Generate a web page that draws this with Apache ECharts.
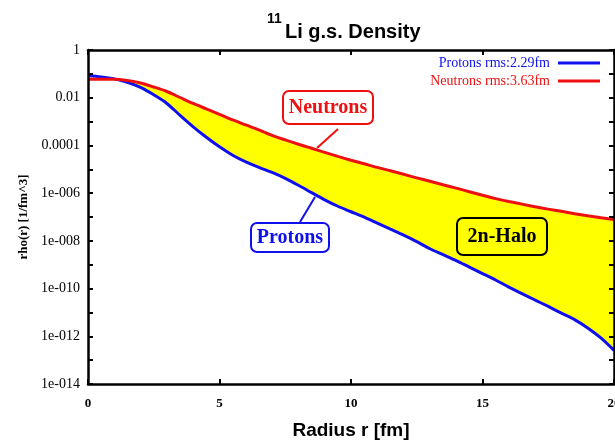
<!DOCTYPE html>
<html>
<head>
<meta charset="utf-8">
<title>11Li g.s. Density</title>
<script src="https://cdn.jsdelivr.net/npm/echarts@6/dist/echarts.min.js"></script>
<style>
  html, body { margin: 0; padding: 0; background: #ffffff; }
  #chart { width: 615px; height: 445px; }
</style>
</head>
<body>
<div id="chart"></div>
<script>
// Radial grid in fm
const radius = [0, 0.5, 1, 1.5, 2, 2.5, 3, 3.5, 4, 4.5, 5, 5.5, 6, 6.5, 7, 7.5, 8, 8.5, 9, 9.5,
  10, 10.5, 11, 11.5, 12, 12.5, 13, 13.5, 14, 14.5, 15, 15.5, 16, 16.5, 17, 17.5, 18, 18.5, 19, 19.5, 20];

// Proton density rho_p(r) [1/fm^3]
const protonDensity = [0.085, 0.074, 0.0617, 0.0437, 0.0269, 0.0132, 5.75e-3, 1.82e-3, 6.03e-4, 2.19e-4,
  8.71e-5, 3.89e-5, 2.04e-5, 1.20e-5, 7.41e-6, 4.17e-6, 2.14e-6, 1.05e-6, 5.25e-7, 2.82e-7,
  1.66e-7, 9.77e-8, 5.5e-8, 3.09e-8, 1.74e-8, 9.33e-9, 4.68e-9, 2.63e-9, 1.48e-9, 7.94e-10,
  4.27e-10, 2.29e-10, 1.15e-10, 6.17e-11, 3.31e-11, 1.78e-11, 9.33e-12, 5.01e-12, 2.24e-12, 8.51e-13, 2.57e-13];

// Neutron density rho_n(r) [1/fm^3]
const neutronDensity = [0.0589, 0.0589, 0.0589, 0.0525, 0.0417, 0.0282, 0.0182, 0.0102, 5.75e-3, 3.39e-3,
  2.0e-3, 1.17e-3, 7.24e-4, 4.47e-4, 2.63e-4, 1.70e-4, 1.12e-4, 7.59e-5, 5.13e-5, 3.47e-5,
  2.40e-5, 1.70e-5, 1.20e-5, 8.71e-6, 6.17e-6, 4.37e-6, 3.16e-6, 2.24e-6, 1.62e-6, 1.15e-6,
  8.13e-7, 5.89e-7, 4.47e-7, 3.47e-7, 2.69e-7, 2.14e-7, 1.74e-7, 1.38e-7, 1.12e-7, 9.33e-8, 7.76e-8];

const seriesNames = ['Protons rms:2.29fm', 'Neutrons rms:3.63fm'];

// Axis ticks and labels
const xTickValues = [0, 5, 10, 15, 20];
const yTickValues = [1, 1e-1, 1e-2, 1e-3, 1e-4, 1e-5, 1e-6, 1e-7, 1e-8, 1e-9, 1e-10, 1e-11, 1e-12, 1e-13, 1e-14];
const yLabelValues = [1, 1e-2, 1e-4, 1e-6, 1e-8, 1e-10, 1e-12, 1e-14];
const yTickLabels = ['1', '0.01', '0.0001', '1e-006', '1e-008', '1e-010', '1e-012', '1e-014'];

const SERIF = '"Liberation Serif", "DejaVu Serif", serif';
const SANS = '"Liberation Sans", Arial, sans-serif';

const protonPoints = radius.map((r, i) => [r, protonDensity[i]]);
const neutronPoints = radius.map((r, i) => [r, neutronDensity[i]]);

function yLabel(v) {
  const i = yLabelValues.findIndex(t => Math.abs(Math.log10(t) - Math.log10(v)) < 1e-6);
  return i >= 0 ? yTickLabels[i] : '';
}

const frameLine = { show: true, onZero: false, lineStyle: { color: '#000', width: 2.5 } };
const tickStyle = { color: '#000', width: 2 };

const chart = echarts.init(document.getElementById('chart'), null, { renderer: 'canvas' });

chart.setOption({
  animation: false,
  backgroundColor: '#ffffff',
  grid: { left: 88, right: 1, top: 50, bottom: 61, show: false, containLabel: false, outerBoundsMode: 'none' },
  legend: {
    orient: 'vertical',
    right: 15,
    top: 56,
    align: 'right',
    icon: 'rect',
    itemWidth: 42,
    itemHeight: 3,
    itemGap: 4,
    padding: 0,
    selectedMode: false,
    textStyle: { fontFamily: SERIF, fontSize: 14, padding: [0, 3, 0, 0] },
    data: [
      { name: seriesNames[0], textStyle: { color: '#1010ee' } },
      { name: seriesNames[1], textStyle: { color: '#ee1010' } }
    ]
  },
  xAxis: [
    {
      type: 'value', min: 0, max: 20, interval: 5, position: 'bottom', z: 10,
      axisLine: frameLine,
      axisTick: { show: true, inside: true, length: 5, customValues: xTickValues, lineStyle: tickStyle },
      axisLabel: { customValues: xTickValues, margin: 13, color: '#000', fontFamily: SERIF, fontSize: 13, fontWeight: 'bold' },
      splitLine: { show: false },
      name: 'Radius r [fm]', nameLocation: 'middle', nameGap: 37,
      nameTextStyle: { fontFamily: SANS, fontSize: 19, fontWeight: 'bold', color: '#000' }
    },
    {
      type: 'value', min: 0, max: 20, interval: 5, position: 'top', z: 10,
      axisLine: frameLine,
      axisTick: { show: true, inside: true, length: 5, customValues: xTickValues, lineStyle: tickStyle },
      axisLabel: { show: false },
      splitLine: { show: false }
    }
  ],
  yAxis: [
    {
      type: 'log', logBase: 10, min: 1e-14, max: 1, position: 'left', z: 10,
      axisLine: frameLine,
      axisTick: { show: true, inside: true, length: 5, customValues: yTickValues, lineStyle: tickStyle },
      axisLabel: { customValues: yLabelValues, formatter: yLabel, margin: 8, color: '#000', fontFamily: SERIF, fontSize: 14 },
      splitLine: { show: false },
      name: 'rho(r) [1/fm^3]', nameLocation: 'middle', nameGap: 57, nameRotate: 90,
      nameTextStyle: { fontFamily: SERIF, fontSize: 13, fontWeight: 'bold', color: '#000' }
    },
    {
      type: 'log', logBase: 10, min: 1e-14, max: 1, position: 'right', z: 10,
      axisLine: frameLine,
      axisTick: { show: true, inside: true, length: 5, customValues: yTickValues, lineStyle: tickStyle },
      axisLabel: { show: false },
      splitLine: { show: false }
    }
  ],
  series: [
    {
      // halo region: neutron density filled yellow
      name: 'neutronFill', type: 'line', data: neutronPoints, symbol: 'none', silent: true, z: 1,
      smooth: 0.3,
      lineStyle: { width: 0 },
      areaStyle: { color: '#ffff00', opacity: 1, origin: 'start' }
    },
    {
      // region below the proton density left blank
      name: 'protonMask', type: 'line', data: protonPoints, symbol: 'none', silent: true, z: 2,
      smooth: 0.3,
      lineStyle: { width: 0 },
      areaStyle: { color: '#ffffff', opacity: 1, origin: 'start' }
    },
    {
      name: seriesNames[0], type: 'line', data: protonPoints, symbol: 'none', z: 3,
      smooth: 0.3,
      itemStyle: { color: '#1010ee' },
      lineStyle: { color: '#1010ee', width: 3 }
    },
    {
      name: seriesNames[1], type: 'line', data: neutronPoints, symbol: 'none', z: 4,
      smooth: 0.3,
      itemStyle: { color: '#ee1010' },
      lineStyle: { color: '#ee1010', width: 3 }
    }
  ],
  graphic: [
    // title with superscript mass number
    { type: 'text', left: 267, top: 12, z: 20,
      style: { text: '11', fontFamily: SANS, fontSize: 14, fontWeight: 'bold', fill: '#000' } },
    { type: 'text', left: 285, top: 22, z: 20,
      style: { text: 'Li g.s. Density', fontFamily: SANS, fontSize: 20, fontWeight: 'bold', fill: '#000' } },

    // Neutrons callout
    { type: 'rect', z: 20, shape: { x: 283, y: 91, width: 90, height: 33, r: 6 },
      style: { fill: '#ffffff', stroke: '#ee1010', lineWidth: 2 } },
    { type: 'text', z: 21, x: 328, y: 108,
      style: { text: 'Neutrons', fontFamily: SERIF, fontSize: 20, fontWeight: 'bold', fill: '#ee1010', align: 'center', verticalAlign: 'middle' } },
    { type: 'line', z: 21, shape: { x1: 338, y1: 129, x2: 317, y2: 148 },
      style: { stroke: '#ee1010', lineWidth: 2 } },

    // Protons callout
    { type: 'rect', z: 20, shape: { x: 251, y: 223, width: 78, height: 29, r: 6 },
      style: { fill: '#ffffff', stroke: '#1010ee', lineWidth: 2 } },
    { type: 'text', z: 21, x: 290, y: 238,
      style: { text: 'Protons', fontFamily: SERIF, fontSize: 20, fontWeight: 'bold', fill: '#1010ee', align: 'center', verticalAlign: 'middle' } },
    { type: 'line', z: 21, shape: { x1: 300, y1: 222, x2: 315, y2: 197 },
      style: { stroke: '#1010ee', lineWidth: 2 } },

    // 2n-Halo label
    { type: 'rect', z: 20, shape: { x: 457, y: 218, width: 90, height: 37, r: 6 },
      style: { fill: '#ffff00', stroke: '#000000', lineWidth: 2 } },
    { type: 'text', z: 21, x: 502, y: 237,
      style: { text: '2n-Halo', fontFamily: SERIF, fontSize: 20, fontWeight: 'bold', fill: '#000', align: 'center', verticalAlign: 'middle' } }
  ]
});
</script>
</body>
</html>
